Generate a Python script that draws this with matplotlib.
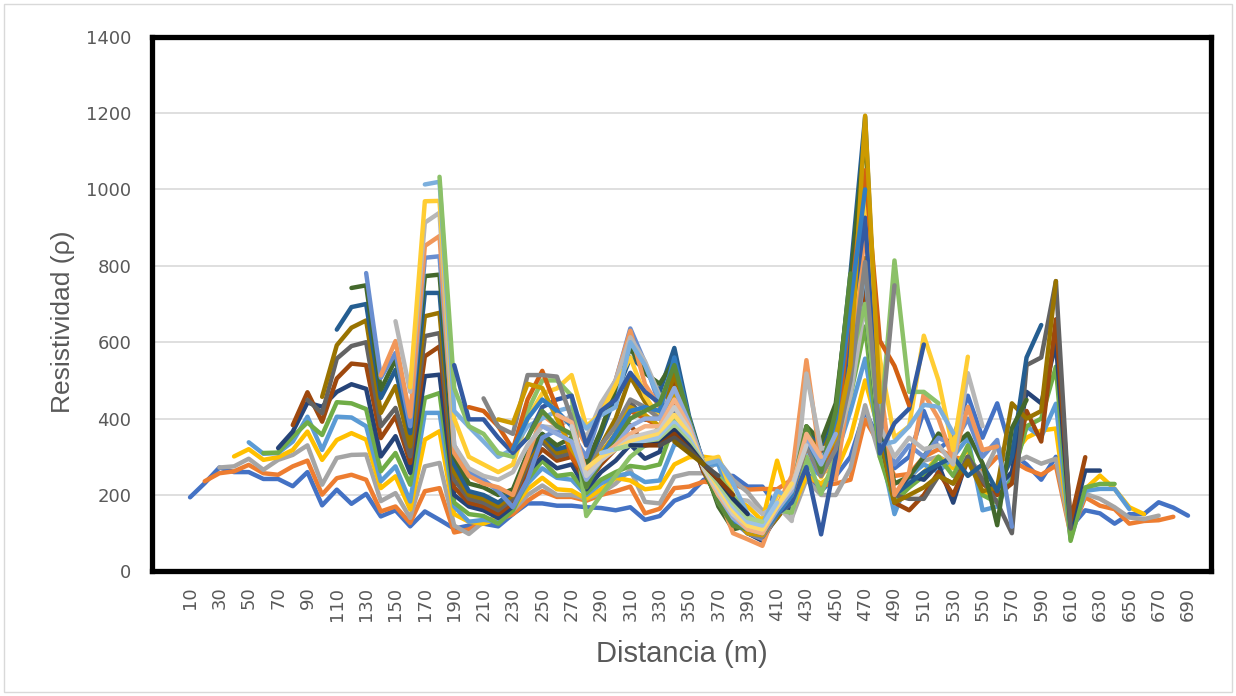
import numpy as np
import matplotlib
matplotlib.use("Agg")
import matplotlib.pyplot as plt
from matplotlib.patches import Rectangle

# resistividad por nivel, cada nivel empieza en 10*n y termina en 700-10*n
r01 = [194, 231, 272, 260, 260, 242, 242, 223, 260, 173,
       214, 177, 203, 144, 160, 118, 157, 135, 112, 120,
       125, 118, 150, 178, 178, 172, 172, 168, 166, 160,
       168, 135, 145, 185, 200, 240, 250, 250, 222, 222,
       170, 200, 260, 210, 250, 300, 420, 340, 270, 300,
       420, 320, 350, 460, 350, 440, 310, 280, 240, 300,
       115, 160, 152, 125, 150, 150, 181, 167, 146]
r02 = [236, 257, 262, 279, 257, 253, 275, 290, 201, 244,
       253, 240, 157, 170, 127, 210, 218, 102, 110, 130,
       135, 150, 185, 210, 195, 195, 185, 200, 210, 222,
       152, 164, 218, 222, 235, 230, 229, 214, 216, 215,
       240, 250, 225, 230, 240, 397, 330, 250, 255, 300,
       320, 300, 290, 260, 300, 290, 268, 253, 277, 97,
       194, 172, 163, 125, 132, 134, 143]
r03 = [272, 275, 295, 266, 292, 305, 330, 227, 297, 305,
       306, 184, 205, 140, 275, 284, 120, 98, 130, 145,
       160, 200, 225, 200, 200, 190, 205, 230, 266, 182,
       178, 248, 257, 257, 290, 240, 207, 159, 180, 140,
       240, 200, 200, 270, 435, 300, 230, 240, 290, 300,
       280, 300, 250, 330, 280, 300, 282, 295, 100, 203,
       190, 168, 141, 137, 146]
r04 = [301, 320, 292, 299, 318, 366, 292, 344, 362, 345,
       218, 249, 162, 345, 367, 150, 130, 125, 140, 165,
       215, 245, 215, 212, 190, 215, 245, 238, 215, 220,
       280, 299, 300, 295, 194, 170, 132, 290, 160, 250,
       230, 260, 350, 500, 360, 200, 220, 260, 300, 270,
       320, 200, 220, 300, 350, 369, 374, 90, 216, 251,
       216, 168, 150]
r05 = [338, 308, 310, 340, 405, 318, 405, 403, 380, 236,
       275, 183, 415, 415, 170, 130, 135, 130, 170, 230,
       270, 245, 240, 200, 230, 250, 257, 234, 238, 332,
       332, 280, 280, 170, 120, 100, 150, 170, 280, 250,
       300, 420, 557, 330, 150, 250, 280, 260, 300, 350,
       160, 170, 250, 380, 352, 439, 85, 211, 216, 216,
       163]
r06 = [310, 311, 353, 390, 357, 443, 440, 425, 262, 310,
       227, 454, 467, 180, 150, 145, 125, 160, 240, 290,
       250, 255, 205, 240, 260, 276, 271, 280, 388, 379,
       270, 230, 160, 110, 90, 160, 154, 320, 280, 330,
       460, 641, 300, 180, 220, 250, 300, 250, 330, 200,
       180, 240, 380, 400, 536, 80, 220, 229, 229]
r07 = [323, 366, 442, 431, 470, 490, 478, 301, 354, 258,
       511, 515, 200, 170, 160, 140, 170, 260, 300, 270,
       280, 215, 260, 290, 332, 295, 313, 449, 360, 260,
       200, 150, 100, 80, 150, 170, 330, 290, 340, 500,
       700, 350, 200, 250, 240, 280, 180, 300, 230, 220,
       260, 470, 440, 597, 115, 264, 264]
r08 = [383, 469, 392, 505, 544, 540, 349, 406, 284, 563,
       589, 220, 180, 170, 150, 180, 270, 320, 290, 300,
       230, 280, 320, 383, 332, 341, 496, 370, 260, 190,
       140, 100, 85, 150, 180, 340, 300, 360, 520, 750,
       360, 180, 160, 200, 260, 200, 290, 230, 200, 230,
       420, 340, 660, 132, 299]
r09 = [449, 414, 557, 590, 600, 380, 428, 301, 616, 624,
       240, 190, 180, 160, 190, 280, 340, 300, 310, 250,
       300, 360, 444, 397, 402, 524, 380, 270, 180, 135,
       100, 90, 140, 190, 350, 310, 370, 540, 780, 350,
       200, 190, 190, 250, 230, 300, 240, 180, 100, 540,
       560, 760, 112]
r10 = [457, 592, 638, 657, 415, 485, 327, 668, 677, 260,
       200, 190, 170, 200, 290, 350, 310, 320, 260, 330,
       400, 510, 444, 402, 515, 390, 270, 180, 130, 105,
       95, 140, 190, 360, 320, 380, 560, 820, 360, 180,
       200, 220, 250, 230, 290, 210, 220, 440, 400, 420,
       760]
r11 = [633, 692, 700, 454, 528, 362, 729, 729, 280, 210,
       200, 180, 210, 300, 360, 320, 330, 270, 360, 460,
       560, 529, 470, 585, 407, 280, 180, 120, 110, 100,
       150, 200, 378, 330, 420, 780, 1190, 400, 200, 230,
       260, 280, 300, 250, 280, 210, 300, 560, 645]
r12 = [742, 749, 476, 555, 402, 773, 777, 300, 230, 220,
       200, 215, 310, 360, 330, 350, 280, 370, 480, 585,
       519, 491, 552, 400, 280, 170, 110, 120, 100, 160,
       200, 380, 340, 440, 760, 1150, 400, 230, 248, 300,
       361, 327, 361, 283, 121, 375, 449]
r13 = [781, 507, 572, 380, 821, 825, 330, 260, 240, 210,
       168, 240, 350, 370, 360, 300, 420, 500, 636, 547,
       435, 420, 380, 290, 180, 130, 100, 85, 150, 180,
       300, 250, 380, 600, 950, 400, 280, 330, 300, 350,
       330, 400, 300, 344, 117]
r14 = [513, 603, 405, 852, 878, 310, 250, 230, 220, 200,
       300, 410, 380, 400, 330, 430, 500, 630, 490, 430,
       400, 370, 280, 200, 100, 84, 67, 170, 250, 553,
       280, 240, 500, 900, 500, 200, 260, 466, 400, 292,
       431, 318, 327]
r15 = [655, 470, 913, 939, 330, 270, 250, 240, 260, 330,
       380, 375, 410, 350, 440, 500, 613, 550, 460, 420,
       370, 270, 230, 190, 185, 150, 172, 132, 518, 321,
       330, 460, 700, 380, 300, 350, 320, 330, 280, 519,
       380]
r16 = [482, 969, 970, 400, 300, 280, 260, 280, 400, 466,
       479, 514, 380, 413, 488, 560, 460, 400, 380, 350,
       290, 300, 200, 120, 100, 200, 203, 369, 246, 320,
       600, 978, 557, 350, 380, 617, 500, 318, 562]
r17 = [1013, 1020, 420, 379, 340, 300, 320, 380, 400, 420,
       430, 374, 409, 430, 600, 540, 450, 400, 360, 280,
       290, 230, 150, 120, 211, 190, 308, 300, 330, 500,
       800, 330, 340, 380, 436, 431, 362]
r18 = [1033, 480, 380, 360, 310, 300, 420, 500, 500, 460,
       145, 200, 250, 300, 330, 380, 400, 380, 270, 250,
       200, 140, 110, 160, 154, 300, 203, 300, 550, 700,
       360, 814, 470, 470, 440]
r19 = [540, 398, 398, 350, 310, 350, 430, 450, 460, 330,
       420, 450, 520, 470, 440, 420, 380, 280, 200, 140,
       110, 90, 150, 180, 273, 97, 300, 650, 926, 309,
       388, 426, 594]
r20 = [430, 420, 380, 320, 450, 525, 426, 300, 250, 300,
       350, 420, 400, 380, 450, 380, 270, 200, 150, 110,
       100, 170, 200, 330, 250, 330, 700, 1050, 604, 538,
       435]
r21 = [453, 379, 360, 514, 514, 510, 400, 250, 330, 380,
       450, 430, 400, 480, 380, 270, 200, 150, 100, 90,
       150, 200, 330, 250, 320, 500, 810, 341, 749]
r22 = [398, 388, 491, 480, 400, 320, 260, 310, 360, 430,
       410, 380, 460, 390, 270, 190, 140, 100, 95, 160,
       210, 360, 280, 350, 540, 1193, 444]
r23 = [320, 400, 450, 420, 380, 230, 300, 360, 420, 430,
       420, 560, 400, 270, 190, 130, 110, 100, 150, 200,
       350, 270, 400, 700, 1000]
r24 = [350, 420, 380, 360, 220, 290, 340, 400, 420, 440,
       540, 400, 270, 180, 120, 110, 100, 160, 210, 380,
       260, 420, 780]
r25 = [380, 360, 340, 240, 290, 330, 380, 400, 400, 480,
       390, 280, 200, 140, 110, 100, 160, 210, 350, 280,
       360]
r26 = [410, 390, 260, 300, 330, 360, 380, 380, 450, 380,
       270, 200, 150, 110, 100, 170, 220, 360, 300]
r27 = [380, 250, 290, 320, 350, 360, 370, 430, 370, 270,
       210, 150, 120, 110, 170, 220, 330]
r28 = [270, 300, 320, 340, 350, 360, 410, 360, 280, 220,
       160, 120, 110, 170, 230]
r29 = [310, 320, 330, 340, 350, 390, 350, 280, 230, 170, 130, 120, 180]
r30 = [320, 330, 330, 340, 380, 340, 280, 230, 180, 140, 130]
r31 = [330, 330, 335, 370, 330, 280, 240, 190, 150]
r32 = [330, 330, 360, 320, 280, 240, 200]
r33 = [330, 350, 320, 280, 250]
r34 = [340, 310, 280]

niveles = [r01, r02, r03, r04, r05, r06, r07, r08, r09, r10, r11, r12,
           r13, r14, r15, r16, r17, r18, r19, r20, r21, r22, r23, r24,
           r25, r26, r27, r28, r29, r30, r31, r32, r33, r34]

colores = ['#4472C4', '#ED7D31', '#A5A5A5', '#FFC000', '#5B9BD5', '#70AD47',
           '#264478', '#9E480E', '#636363', '#997300', '#255E91', '#43682B',
           '#698ED0', '#F1975A', '#B7B7B7', '#FFCD33', '#7CAFDD', '#8CC168',
           '#335AA1', '#D26012', '#848484', '#CC9A00', '#327DC2', '#5A8A39',
           '#8FAADC', '#F4B183', '#C9C9C9', '#FFD966', '#9DC3E6', '#A9D18E',
           '#203864', '#843C0C', '#525252', '#7F6000']

etiquetas_x = list(range(10, 700, 20))

fig = plt.figure(figsize=(12.36, 6.96), dpi=100)
fig.patches.append(Rectangle((4 / 1236, 4 / 696), 1228 / 1236, 688 / 696,
                             transform=fig.transFigure, fill=False,
                             edgecolor='#D9D9D9', linewidth=1))
ax = fig.add_axes([0.123, 0.179, 0.8568, 0.7684])

for n, vals in enumerate(niveles, start=1):
    inicio = 10 * n
    if len(vals) != 71 - 2 * n:
        print("nivel", n, "tiene", len(vals), "valores")
    x = np.arange(inicio, inicio + 10 * len(vals), 10)
    ax.plot(x, vals, color=colores[n - 1], linewidth=3.2,
            solid_capstyle='round', solid_joinstyle='round', zorder=2 + n * 0.01)

ax.set_xlim(-15.9, 705.7)
ax.set_ylim(0, 1400)
ax.set_yticks(range(0, 1401, 200))
ax.set_xticks(etiquetas_x)
ax.set_xticklabels([str(v) for v in etiquetas_x], rotation=90)
ax.grid(axis='y', color='#D9D9D9', linewidth=1.2, zorder=0)
ax.set_axisbelow(True)

ax.tick_params(axis='y', length=0, pad=15, labelsize=13, labelcolor='#595959')
ax.tick_params(axis='x', length=0, pad=11, labelsize=13, labelcolor='#595959')
for lab in ax.get_xticklabels() + ax.get_yticklabels():
    lab.set_family('DejaVu Sans')

for sp in ax.spines.values():
    sp.set_color('black')
    sp.set_linewidth(3.8)

ax.set_ylabel("Resistividad (ρ)", fontsize=19, color='#595959',
              family='Liberation Sans')
ax.yaxis.set_label_coords(-0.073, 0.467)
ax.set_xlabel("Distancia (m)", fontsize=21, color='#595959',
              family='Liberation Sans', labelpad=14)

fig.savefig("out.png", dpi=100)
